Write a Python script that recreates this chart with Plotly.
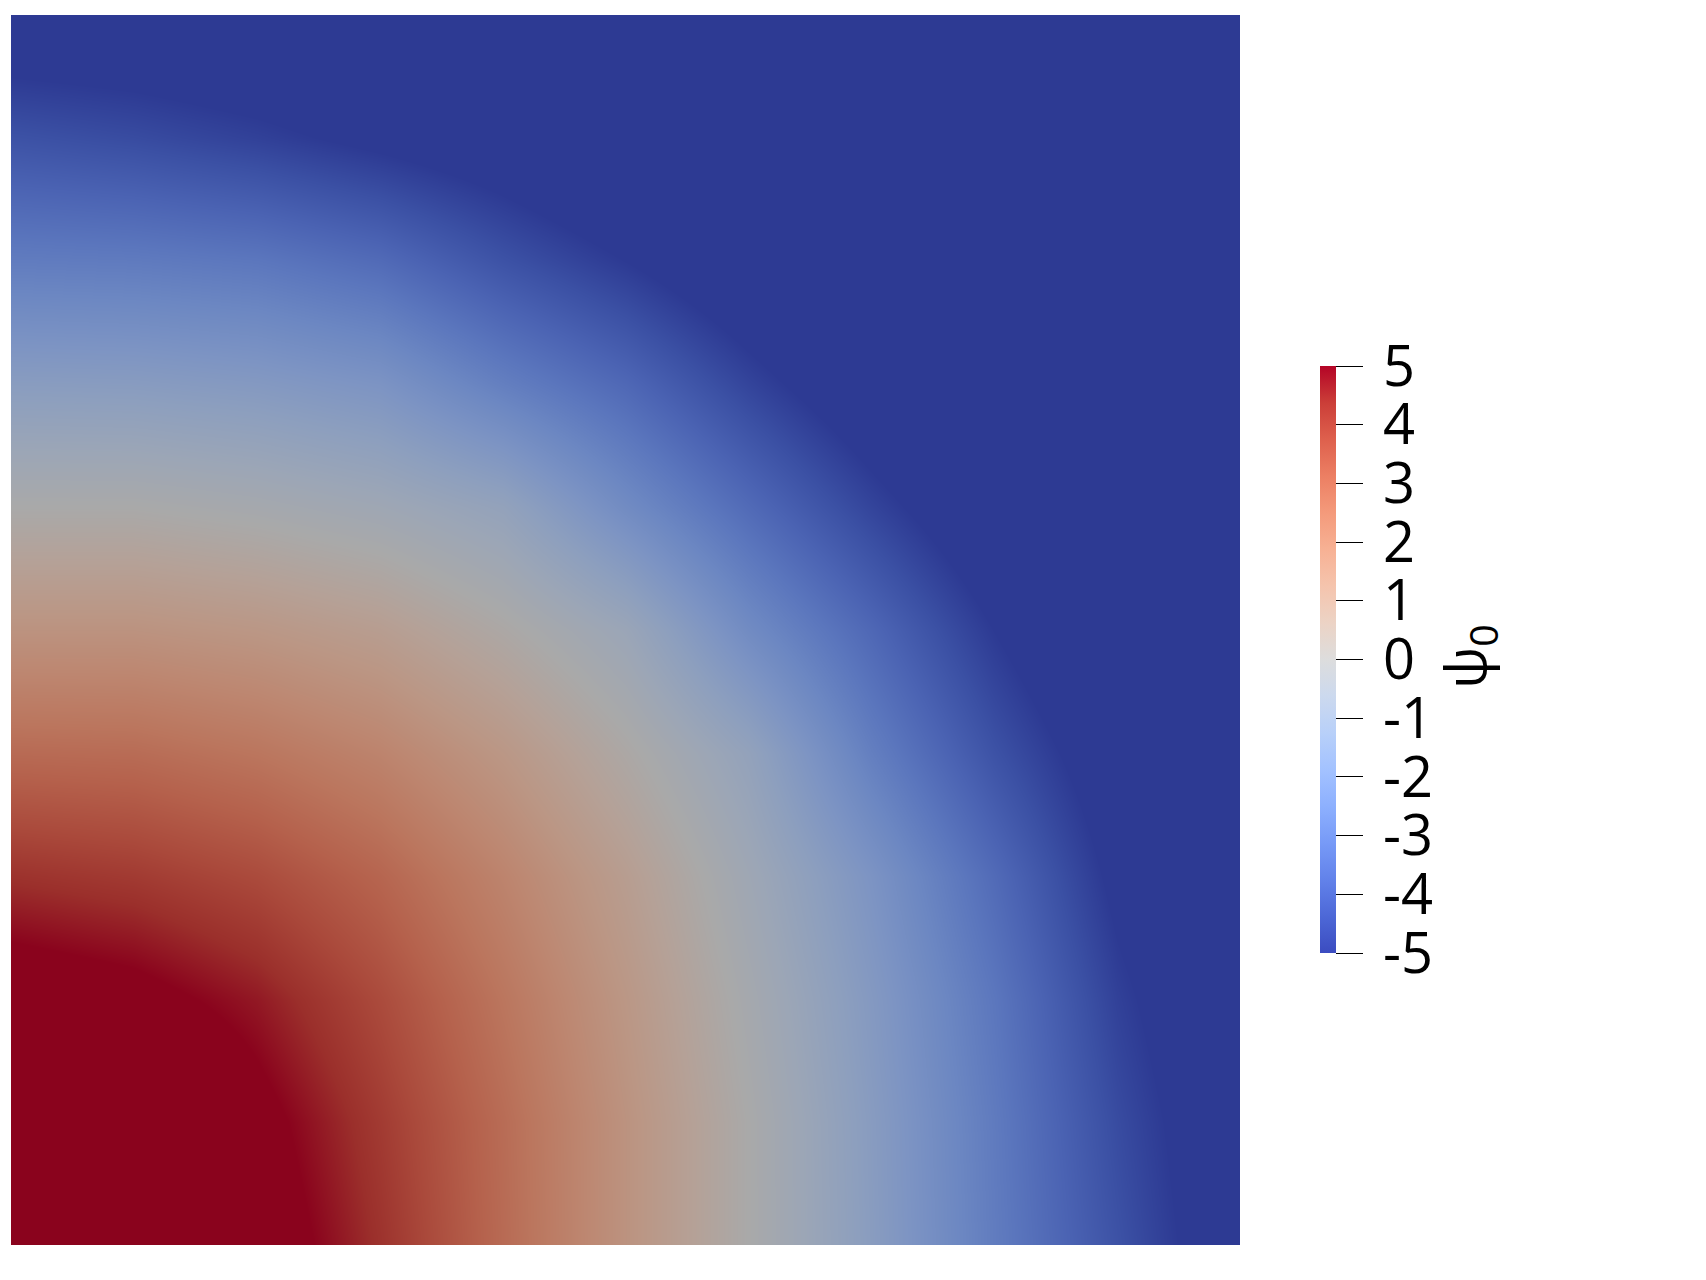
import plotly.graph_objects as go

# Grid node positions (fraction of the square domain)
x_nodes = [0.0, 0.1, 0.2, 0.3, 0.4, 0.5, 0.6, 0.7, 0.8, 0.9, 1.0]
y_nodes = [0.0, 0.1, 0.2, 0.3, 0.4, 0.5, 0.6, 0.7, 0.8, 0.9, 1.0]

# psi_0 values, rows from bottom (y=0) to top (y=1)
psi_row_00 = [8.0, 7.0, 5.6, 4.3, 2.85, 1.4, 0.0, -1.4, -2.9, -4.3, -5.7]
psi_row_01 = [7.0, 6.6, 5.3, 4.1, 2.8, 1.4, 0.0, -1.45, -2.95, -4.5, -5.8]
psi_row_02 = [5.6, 5.3, 4.7, 3.7, 2.5, 1.2, -0.2, -1.6, -3.1, -4.8, -6.0]
psi_row_03 = [4.3, 4.1, 3.7, 3.0, 2.0, 0.85, -0.5, -1.9, -3.5, -5.2, -6.3]
psi_row_04 = [2.85, 2.8, 2.5, 2.0, 1.2, 0.15, -1.0, -2.8, -4.3, -5.6, -6.8]
psi_row_05 = [1.4, 1.4, 1.2, 0.85, 0.15, -0.7, -2.3, -3.6, -5.0, -6.2, -7.4]
psi_row_06 = [0.0, 0.0, -0.2, -0.5, -1.0, -2.3, -3.5, -4.7, -5.8, -6.9, -8.0]
psi_row_07 = [-1.4, -1.45, -1.6, -1.9, -2.8, -3.6, -4.7, -5.7, -6.7, -7.7, -8.0]
psi_row_08 = [-2.9, -2.95, -3.1, -3.5, -4.3, -5.0, -5.8, -6.7, -7.6, -8.0, -8.0]
psi_row_09 = [-4.3, -4.5, -4.8, -5.2, -5.6, -6.2, -6.9, -7.7, -8.0, -8.0, -8.0]
psi_row_10 = [-5.7, -5.8, -6.0, -6.3, -6.8, -7.4, -8.0, -8.0, -8.0, -8.0, -8.0]

psi_grid = [psi_row_00, psi_row_01, psi_row_02, psi_row_03, psi_row_04, psi_row_05,
            psi_row_06, psi_row_07, psi_row_08, psi_row_09, psi_row_10]

# Colour bar ticks
tick_values = [-5, -4, -3, -2, -1, 0, 1, 2, 3, 4, 5]
tick_labels = ["-5", "-4", "-3", "-2", "-1", "0", "1", "2", "3", "4", "5"]
color_min, color_max = -5, 5

# "Cool to Warm" diverging map
cool_warm = [
    (59, 76, 192), (77, 104, 215), (98, 130, 234), (119, 154, 247),
    (141, 176, 254), (163, 194, 255), (184, 208, 249), (204, 217, 238),
    (221, 221, 221), (236, 211, 197), (245, 196, 173), (247, 177, 148),
    (244, 154, 123), (236, 127, 99), (222, 96, 77), (203, 62, 56),
    (180, 4, 38),
]
shade = 0.765  # lighting dimming of the rendered surface

n = len(cool_warm)
scale_bar = [[i / (n - 1), "rgb(%d,%d,%d)" % c] for i, c in enumerate(cool_warm)]
scale_surface = [[i / (n - 1), "rgb(%d,%d,%d)" % tuple(round(v * shade) for v in c)]
                 for i, c in enumerate(cool_warm)]

font_family = "'Open Sans', Lato, sans-serif"

# page layout (the page body adds an 8 px margin)
W, H = 1690, 1264
PL, PT, PR, PB = 3, 7, 1232, 1237        # plot area in figure pixels
pw, ph = PR - PL, PB - PT


def px_x(v):
    return (v - 8 - PL) / pw


def px_y(v):
    return (PB - (v - 8)) / ph


gap = "\u2009"

fig = go.Figure()
# Trace carrying the colour legend (undimmed map)
fig.add_trace(go.Heatmap(
    x=x_nodes, y=y_nodes, z=psi_grid, zsmooth="best",
    colorscale=scale_bar, zmin=color_min, zmax=color_max,
    hoverinfo="skip",
    colorbar=dict(
        x=px_x(1320), xanchor="left", xpad=0,
        y=px_y(659.5), yanchor="middle", ypad=0,
        len=587 / ph, lenmode="fraction", thickness=16,
        outlinewidth=0,
        tickmode="array", tickvals=tick_values,
        ticktext=[gap + t for t in tick_labels],
        ticks="outside", ticklen=27, tickwidth=1, tickcolor="black",
        tickfont=dict(family=font_family, size=56, color="black"),
    ),
))
# Rendered (lit) surface
fig.add_trace(go.Heatmap(
    x=x_nodes, y=y_nodes, z=psi_grid, zsmooth="best",
    colorscale=scale_surface, zmin=color_min, zmax=color_max,
    showscale=False, hoverinfo="skip",
))

fig.add_annotation(
    text="ψ<sub>0</sub>", xref="paper", yref="paper",
    x=px_x(1467), y=px_y(657),
    xanchor="center", yanchor="middle", showarrow=False, textangle=-90,
    font=dict(family=font_family, size=56, color="black"),
)

fig.update_xaxes(range=[0, 1], visible=False, showgrid=False, zeroline=False)
fig.update_yaxes(range=[0, 1], visible=False, showgrid=False, zeroline=False)
fig.update_layout(
    width=W, height=H,
    margin=dict(l=PL, r=W - PR, t=PT, b=H - PB),
    paper_bgcolor="white", plot_bgcolor="white",
    showlegend=False,
)

fig.write_html("out.html")
